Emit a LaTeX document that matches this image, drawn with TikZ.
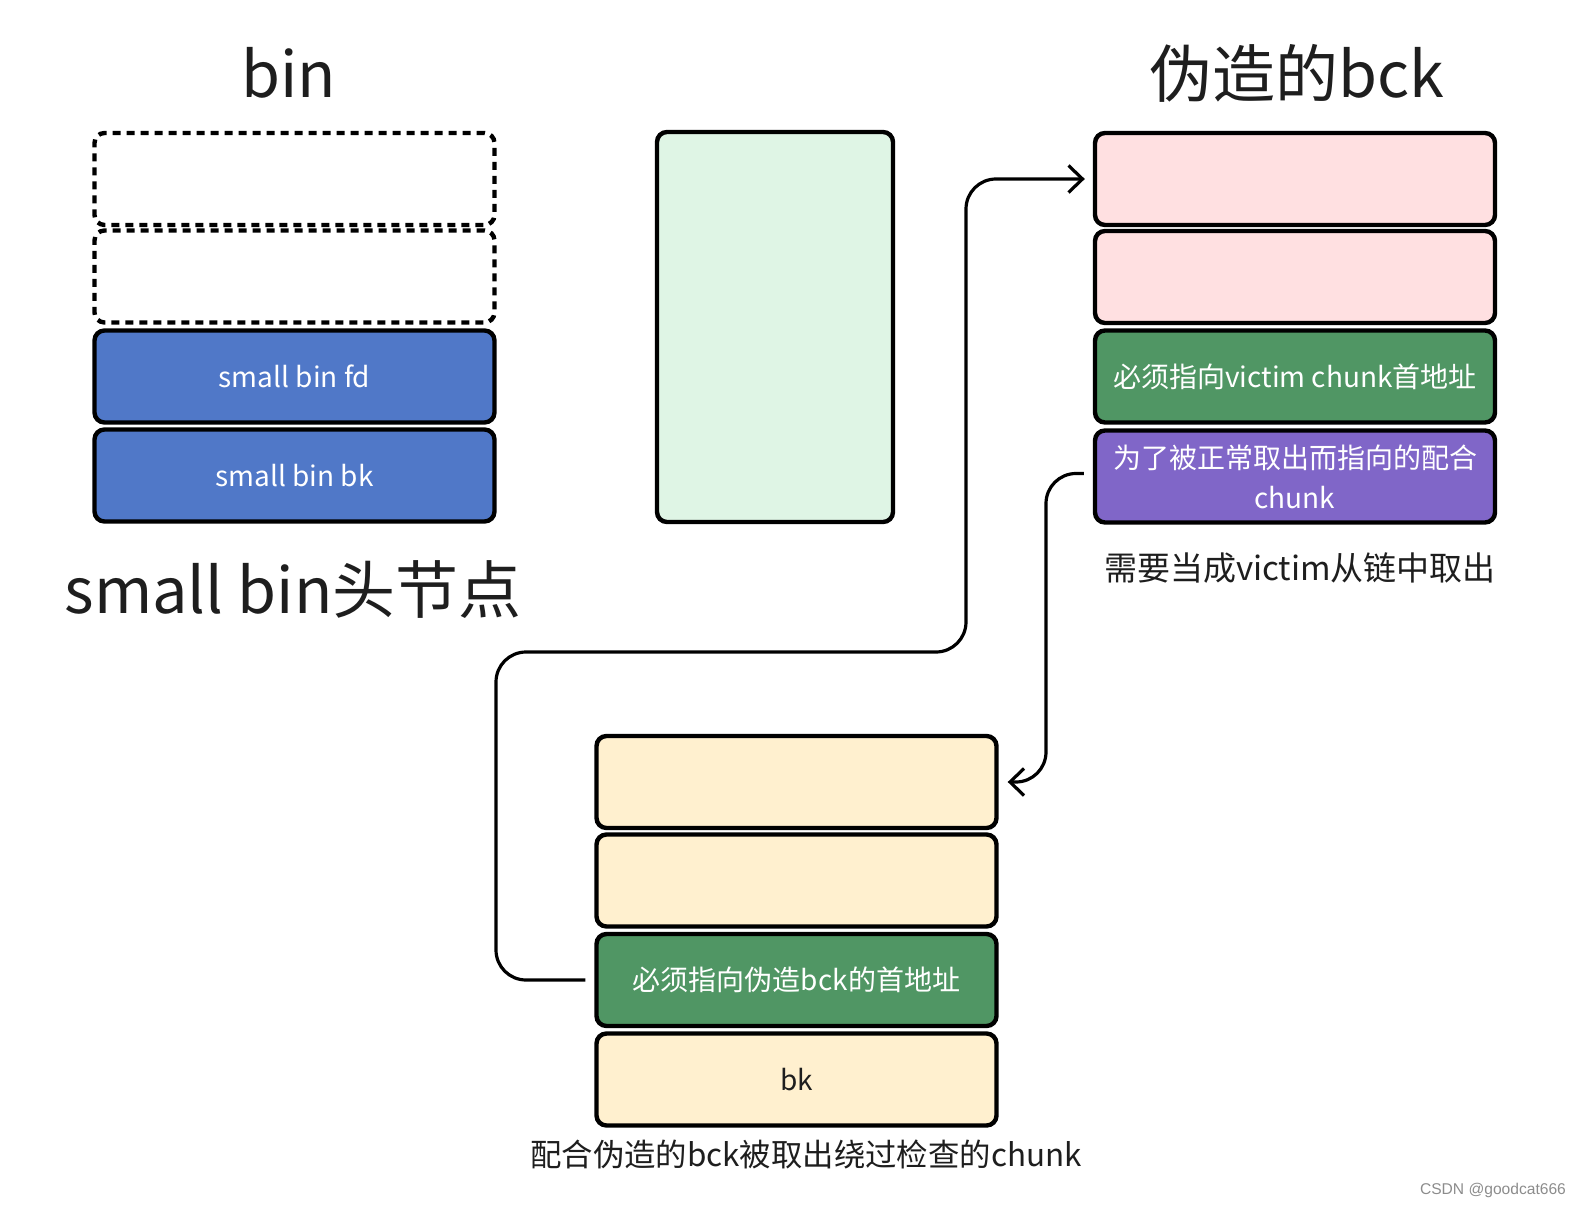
\documentclass[tikz,border=0pt]{standalone}
\usepackage{fontspec}
\setmainfont{Noto Sans CJK SC}
\newfontfamily\wmfont{Liberation Sans}
\usetikzlibrary{arrows.meta,calc}
\definecolor{binblue}{HTML}{5078C8}
\definecolor{okgreen}{HTML}{509664}
\definecolor{purp}{HTML}{8066C8}
\definecolor{pinkf}{HTML}{FFE0E1}
\definecolor{yellowf}{HTML}{FFF0CF}
\definecolor{mintf}{HTML}{DFF5E5}
\definecolor{txtdark}{HTML}{1E1E1E}
\tikzset{
  cell/.style={draw=black, line width=2.2pt, rounded corners=5pt, minimum width=200pt, minimum height=46pt, inner sep=2pt, align=center, font=\fontsize{14pt}{20pt}\selectfont},
  dcell/.style={cell, dashed, dash pattern=on 4pt off 3pt},
  conn/.style={draw=black, line width=1.6pt, rounded corners=15pt, -{Straight Barb[length=7pt,width=13.5pt,line width=1.6pt]}},
  title/.style={text=txtdark, font=\fontsize{31.5pt}{36pt}\selectfont},
}
\begin{document}
\begin{tikzpicture}[x=0.5pt,y=-0.5pt]
\useasboundingbox (0,0) rectangle (1580,1208);
% titles
\node[title] (tbin) at (289,73) {bin};
\node[title] (tfake) at (1297,73) {伪造的bck};
\node[title] (thead) at (293,590) {small bin头节点};
% bin stack
\node[dcell] (d1) at (294.5,179) {};
\node[dcell] (d2) at (294.5,276.5) {};
\node[cell, fill=binblue, text=white] (fd) at (294.5,376.5) {\raisebox{-1pt}{small bin fd}};
\node[cell, fill=binblue, text=white] (bk) at (294.5,475.5) {\raisebox{-1pt}{small bin bk}};
% mint box
\node[cell, fill=mintf, minimum width=118pt, minimum height=195pt] (mint) at (775,327) {};
% right stack
\node[cell, fill=pinkf] (r1) at (1295,179) {};
\node[cell, fill=pinkf] (r2) at (1295,277) {};
\node[cell, fill=okgreen, text=white] (r3) at (1295,376.5) {\raisebox{-1pt}{必须指向victim chunk首地址}};
\node[cell, fill=purp, text=white, text width=190pt] (r4) at (1295,476.5) {为了被正常取出而指向的配合\\chunk};
\node[text=txtdark, font=\fontsize{16.5pt}{20pt}\selectfont] (rcap) at (1300,568) {需要当成victim从链中取出};
% bottom stack
\node[cell, fill=yellowf] (b1) at (796.5,782) {};
\node[cell, fill=yellowf] (b2) at (796.5,880.5) {};
\node[cell, fill=okgreen, text=white] (b3) at (796.5,980) {\raisebox{-1pt}{必须指向伪造bck的首地址}};
\node[cell, fill=yellowf, text=txtdark] (b4) at (796.5,1079.5) {\raisebox{-1pt}{bk}};
\node[text=txtdark, font=\fontsize{15.7pt}{20pt}\selectfont] (bcap) at (806,1154) {配合伪造的bck被取出绕过检查的chunk};
% connectors
\coordinate (k1) at (496,652);
\coordinate (k2) at (966,0);
\coordinate (k3) at (1046,0);
\draw[conn] ([xshift=-4.5pt]b3.west) -| (k1) -| (k2 |- r1.west) -- ([xshift=-4pt]r1.west);
\draw[conn] ([xshift=-4.5pt,yshift=1.5pt]r4.west) -| (k3 |- b1.east) -- ([xshift=4.5pt]b1.east);
% watermark
\node[text=gray!90, font=\wmfont\fontsize{7.8pt}{10pt}\selectfont, anchor=east] (wm) at (1573,1190) {CSDN @goodcat666};
\end{tikzpicture}
\end{document}
